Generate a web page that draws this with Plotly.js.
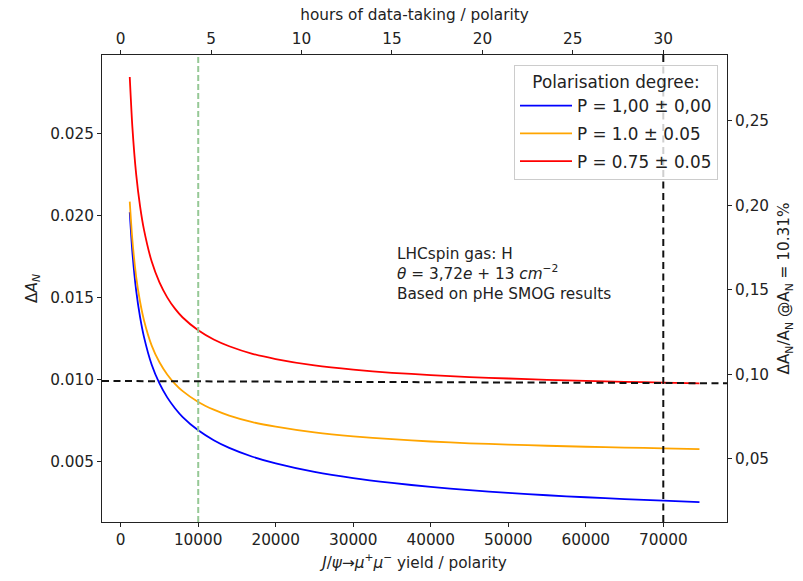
<!DOCTYPE html>
<html>
<head>
<meta charset="utf-8">
<script src="https://cdn.plot.ly/plotly-3.0.1.min.js"></script>
<style>html,body{margin:0;padding:0;background:#fff;}#chart{width:803px;height:581px;}</style>
</head>
<body>
<div id="chart"></div>
<script>
// J/psi -> mu+ mu- yield per polarity
const yieldValues = [1167, 1500, 2000, 2500, 3000, 4000, 5000, 6000, 7000, 8000, 10000, 12000, 14000, 17000, 20000, 25000, 30000, 35000, 40000, 45000, 50000, 55000, 60000, 65000, 70000, 74667];
// Delta A_N for each polarisation scenario
const dANBlue = [0.0202, 0.0178, 0.0154, 0.0138, 0.0126, 0.0109, 0.00976, 0.00891, 0.00825, 0.00771, 0.0069, 0.0063, 0.00583, 0.00529, 0.00488, 0.00436, 0.00398, 0.00369, 0.00345, 0.00325, 0.00309, 0.00294, 0.00282, 0.00271, 0.00261, 0.00252];
const dANOrange = [0.02085, 0.01854, 0.01625, 0.01474, 0.01362, 0.01207, 0.01105, 0.01031, 0.00974, 0.00929, 0.00863, 0.00816, 0.0078, 0.0074, 0.00712, 0.00677, 0.00653, 0.00636, 0.00622, 0.00611, 0.00603, 0.00596, 0.0059, 0.00585, 0.0058, 0.00576];
const dANRed = [0.02845, 0.02544, 0.02249, 0.02056, 0.01914, 0.01719, 0.01592, 0.01501, 0.01432, 0.01378, 0.013, 0.01244, 0.01203, 0.01157, 0.01125, 0.01086, 0.0106, 0.01041, 0.01027, 0.01015, 0.01006, 0.00998, 0.00992, 0.00986, 0.00981, 0.00977];
const seriesNames = ["P = 1,00 ± 0,00", "P = 1.0 ± 0.05", "P = 0.75 ± 0.05"];
const seriesColors = ["#0000ff", "#ffa500", "#ff0000"];

// axis ticks
const xTickVals = [0, 10000, 20000, 30000, 40000, 50000, 60000, 70000];
const xTickText = ["0", "10000", "20000", "30000", "40000", "50000", "60000", "70000"];
const hourTickVals = [0, 5, 10, 15, 20, 25, 30];
const hourTickText = ["0", "5", "10", "15", "20", "25", "30"];
const yTickVals = [0.005, 0.010, 0.015, 0.020, 0.025];
const yTickText = ["0.005", "0.010", "0.015", "0.020", "0.025"];
const relTickVals = [0.05, 0.10, 0.15, 0.20, 0.25];
const relTickText = ["0,05", "0,10", "0,15", "0,20", "0,25"];

// constants
const A_N = 0.1031;
const yieldPerHour = 2333.33;
const markerYields = [10000, 70000];
const targetDeltaAN = [0.00991, 0.00977];

const xRange = [-2413, 78220];
const yRange = [0.00131, 0.02979];

const FONT = "DejaVu Sans, Arial, sans-serif";
const FS = 15.3;
const LFS = 16.8;
const TXT = "#222222";

const dataSets = [dANBlue, dANOrange, dANRed];
const traces = dataSets.map((ys, i) => ({
  type: "scatter", mode: "lines",
  x: yieldValues, y: ys,
  name: seriesNames[i],
  legendgroup: "g" + i,
  line: {color: seriesColors[i], width: 1.8, shape: "spline", smoothing: 0.6},
  xaxis: "x", yaxis: "y",
  hoverinfo: "skip"
}));
// invisible companion trace so the secondary (hours / relative) axes are drawn
traces.push({
  type: "scatter", mode: "lines",
  x: yieldValues.map(v => v / yieldPerHour),
  y: dANBlue.map(v => v / A_N),
  xaxis: "x2", yaxis: "y2",
  line: {width: 0, color: "rgba(0,0,0,0)"},
  opacity: 0, showlegend: false, hoverinfo: "skip"
});

const tickCommon = {
  ticks: "outside", ticklen: 4, tickwidth: 1, tickcolor: "#222",
  showline: true, linecolor: "#222", linewidth: 1,
  showgrid: false, zeroline: false,
  tickfont: {family: FONT, size: FS, color: TXT},
  tickmode: "array", automargin: false
};

const layout = {
  width: 803, height: 581,
  margin: {l: 102, r: 76, t: 55, b: 59},
  paper_bgcolor: "#fff", plot_bgcolor: "#fff",
  font: {family: FONT, size: FS, color: TXT},
  showlegend: true,
  xaxis: Object.assign({}, tickCommon, {
    range: xRange, tickvals: xTickVals, ticktext: xTickText,
    side: "bottom", anchor: "y",
    title: {text: "<i>J</i>/<i>ψ</i>→<i>μ</i><sup>+</sup><i>μ</i><sup>−</sup> yield / polarity", font: {family: FONT, size: FS, color: TXT}, standoff: 8}
  }),
  xaxis2: Object.assign({}, tickCommon, {
    range: [xRange[0] / yieldPerHour, xRange[1] / yieldPerHour],
    tickvals: hourTickVals, ticktext: hourTickText,
    overlaying: "x", side: "top", anchor: "y",
    title: {text: "hours of data-taking / polarity", font: {family: FONT, size: FS, color: TXT}, standoff: 5}
  }),
  yaxis: Object.assign({}, tickCommon, {
    range: yRange, tickvals: yTickVals, ticktext: yTickText,
    side: "left", anchor: "x",
    title: {text: "Δ<i>A</i><sub><i>N</i></sub>", font: {family: FONT, size: FS, color: TXT}, standoff: 8}
  }),
  yaxis2: Object.assign({}, tickCommon, {
    range: [yRange[0] / A_N, yRange[1] / A_N],
    tickvals: relTickVals, ticktext: relTickText,
    overlaying: "y", side: "right", anchor: "x",
    title: {text: "ΔA<sub>N</sub>/A<sub>N</sub> @A<sub>N</sub> = 10.31%", font: {family: FONT, size: FS, color: TXT}, standoff: 10}
  }),
  legend: {
    x: 0.9856, y: 0.978, xanchor: "right", yanchor: "top",
    bgcolor: "rgba(255,255,255,0.8)", bordercolor: "#cccccc", borderwidth: 1,
    font: {family: FONT, size: LFS, color: TXT},
    title: {text: "Polarisation degree:", side: "top center", font: {family: FONT, size: LFS, color: TXT}},
    tracegroupgap: 3, itemwidth: 52
  },
  shapes: [
    {type: "line", xref: "x", yref: "paper", x0: markerYields[0], x1: markerYields[0], y0: 0, y1: 1,
     line: {color: "rgb(150,200,150)", width: 2, dash: "6px,3px"}, layer: "above"},
    {type: "line", xref: "x", yref: "paper", x0: markerYields[1], x1: markerYields[1], y0: 0, y1: 1,
     line: {color: "#111", width: 2, dash: "7px,4.5px"}, layer: "above"},
    {type: "line", xref: "paper", yref: "y", x0: 0, x1: 1, y0: targetDeltaAN[0], y1: targetDeltaAN[1],
     line: {color: "#111", width: 2, dash: "7px,4.5px"}, layer: "above"}
  ],
  annotations: [
    {xref: "paper", yref: "paper", x: 0.469, y: 0.597, xanchor: "left", yanchor: "top", align: "left", showarrow: false,
     text: "LHCspin gas: H<br><i>θ</i> = 3,72<i>e</i> + 13 <i>cm</i><sup>−2</sup><br>Based on pHe SMOG results",
     font: {family: FONT, size: FS, color: TXT}}
  ]
};

Plotly.newPlot("chart", traces, layout, {staticPlot: true, displayModeBar: false});
</script>
</body>
</html>
